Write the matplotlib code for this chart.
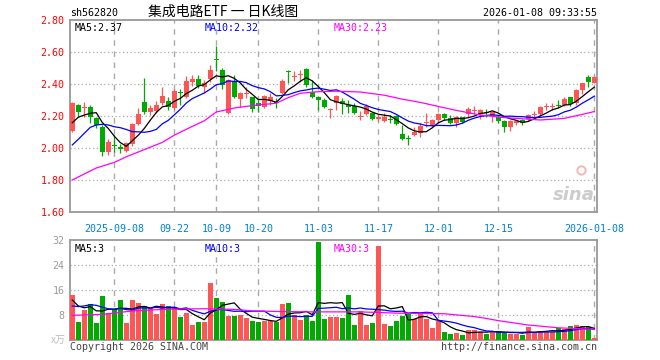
import matplotlib
matplotlib.use('Agg')
import matplotlib.pyplot as plt
import numpy as np
import pandas as pd

# 일봉 데이터
opens = [2.108, 2.269, 2.252, 2.258, 2.187, 2.133, 1.977, 2.021, 2.008, 1.983,
         2.025, 2.150, 2.287, 2.227, 2.233, 2.283, 2.294, 2.248, 2.352, 2.321,
         2.415, 2.429, 2.383, 2.429, 2.552, 2.487, 2.217, 2.421, 2.304, 2.338,
         2.317, 2.283, 2.258, 2.296, 2.290, 2.342, 2.483, 2.444, 2.454, 2.492,
         2.352, 2.317, 2.300, 2.236, 2.279, 2.294, 2.269, 2.263, 2.196, 2.213,
         2.217, 2.179, 2.171, 2.181, 2.200, 2.085, 2.065, 2.081, 2.096, 2.154,
         2.144, 2.175, 2.213, 2.185, 2.158, 2.192, 2.213, 2.233, 2.213, 2.221,
         2.200, 2.192, 2.169, 2.129, 2.154, 2.175, 2.179, 2.208, 2.213, 2.256,
         2.256, 2.269, 2.269, 2.317, 2.279, 2.363, 2.446, 2.408]
closes = [2.283, 2.227, 2.256, 2.192, 2.146, 1.977, 2.040, 2.015, 1.992, 2.029,
          2.150, 2.213, 2.227, 2.250, 2.269, 2.325, 2.258, 2.356, 2.342, 2.419,
          2.429, 2.388, 2.404, 2.487, 2.548, 2.394, 2.425, 2.321, 2.346, 2.342,
          2.242, 2.263, 2.325, 2.317, 2.283, 2.421, 2.475, 2.448, 2.458, 2.394,
          2.321, 2.300, 2.258, 2.238, 2.325, 2.275, 2.258, 2.221, 2.200, 2.263,
          2.179, 2.192, 2.192, 2.173, 2.150, 2.054, 2.058, 2.102, 2.138, 2.158,
          2.175, 2.213, 2.185, 2.158, 2.196, 2.165, 2.242, 2.238, 2.238, 2.217,
          2.227, 2.171, 2.129, 2.169, 2.169, 2.158, 2.206, 2.212, 2.258, 2.258,
          2.259, 2.263, 2.304, 2.273, 2.363, 2.404, 2.415, 2.446]
highs = [2.290, 2.272, 2.287, 2.269, 2.196, 2.144, 2.054, 2.081, 2.025, 2.040,
         2.158, 2.248, 2.440, 2.269, 2.296, 2.383, 2.321, 2.367, 2.367, 2.450,
         2.456, 2.456, 2.425, 2.519, 2.637, 2.498, 2.429, 2.456, 2.352, 2.383,
         2.321, 2.300, 2.331, 2.342, 2.310, 2.429, 2.488, 2.480, 2.488, 2.498,
         2.425, 2.321, 2.310, 2.248, 2.331, 2.310, 2.300, 2.279, 2.233, 2.273,
         2.221, 2.213, 2.217, 2.206, 2.206, 2.144, 2.081, 2.129, 2.154, 2.217,
         2.179, 2.217, 2.217, 2.206, 2.200, 2.196, 2.258, 2.263, 2.242, 2.242,
         2.233, 2.200, 2.175, 2.175, 2.175, 2.179, 2.213, 2.233, 2.263, 2.283,
         2.283, 2.300, 2.317, 2.321, 2.367, 2.408, 2.456, 2.450]
lows = [2.100, 2.192, 2.196, 2.158, 2.123, 1.950, 1.956, 1.977, 1.967, 1.977,
        2.012, 2.144, 2.213, 2.206, 2.221, 2.269, 2.238, 2.238, 2.269, 2.310,
        2.388, 2.373, 2.342, 2.415, 2.483, 2.367, 2.213, 2.310, 2.258, 2.310,
        2.227, 2.227, 2.248, 2.269, 2.248, 2.338, 2.408, 2.420, 2.415, 2.383,
        2.310, 2.238, 2.248, 2.185, 2.238, 2.213, 2.217, 2.213, 2.175, 2.206,
        2.175, 2.171, 2.165, 2.154, 2.144, 2.050, 2.019, 2.075, 2.071, 2.129,
        2.129, 2.154, 2.175, 2.150, 2.129, 2.154, 2.196, 2.213, 2.179, 2.192,
        2.165, 2.154, 2.102, 2.108, 2.144, 2.144, 2.171, 2.192, 2.206, 2.238,
        2.238, 2.248, 2.263, 2.263, 2.269, 2.338, 2.383, 2.404]
# 거래량 (万)
volumes = [14.4, 5.8, 9.6, 11.5, 5.4, 14.1, 8.5, 9.9, 12.8, 5.4,
           12.8, 11.9, 10.9, 10.1, 8.3, 11.5, 10.9, 10.5, 7.5, 8.5,
           4.8, 5.8, 5.8, 18.3, 13.4, 12.3, 7.7, 7.7, 8.0, 7.0,
           6.1, 5.8, 6.1, 6.1, 5.8, 11.5, 11.9, 8.0, 6.4, 8.0,
           6.1, 31.4, 6.7, 7.5, 7.25, 7.0, 14.4, 4.8, 9.3, 4.8,
           5.4, 30.1, 5.1, 4.5, 6.1, 7.7, 8.3, 6.6, 8.3, 6.6,
           3.8, 6.1, 2.6, 1.9, 2.2, 1.6, 3.2, 3.2, 2.6, 1.9,
           2.6, 2.9, 2.6, 1.9, 1.9, 1.6, 4.2, 2.6, 2.9, 2.6,
           2.6, 3.8, 3.5, 4.5, 4.8, 4.5, 4.2, 0.64]

# 이동평균 앞부분 (창 밖 데이터가 필요해서 그림에서 읽음)
ma5_head = [2.158, 2.192, 2.206, 2.217]
ma10_head = [2.019, 2.054, 2.092, 2.129, 2.144, 2.148, 2.144, 2.133, 2.127]
ma30_idx = [0, 4, 7, 9, 12, 15, 17, 20, 22, 24, 27, 30, 34, 36, 38, 41, 44,
            48, 52, 55, 58, 61, 64, 68, 72, 78, 82, 85, 87]
ma30_val = [1.800, 1.875, 1.910, 1.945, 1.990, 2.035, 2.080, 2.135, 2.170,
            2.225, 2.250, 2.265, 2.280, 2.315, 2.342, 2.352, 2.355, 2.350,
            2.330, 2.305, 2.285, 2.260, 2.235, 2.206, 2.190, 2.175, 2.185,
            2.210, 2.228]
vma5_head = [12.8, 10.9, 10.3, 10.7]
vma10_head = [10.9, 10.7, 10.9, 11.3, 11.1, 10.5, 10.0, 9.8, 10.1]
vma30_idx = [0, 5, 7, 10, 13, 17, 22, 27, 30, 35, 40, 43, 48, 54, 57, 62,
             67, 69, 71, 76, 81, 87]
vma30_val = [7.9, 8.2, 8.6, 9.3, 9.6, 9.9, 10.0, 9.8, 9.3, 9.1, 9.0, 9.0,
             9.0, 8.6, 8.5, 8.4, 7.5, 6.9, 6.2, 4.8, 3.9, 3.4]

tick_idx = [7, 17, 24, 31, 41, 51, 61, 71, 87]
tick_labels = ['2025-09-08', '09-22', '10-09', '10-20', '11-03', '11-17',
               '12-01', '12-15', '2026-01-08']
price_ticks = [1.60, 1.80, 2.00, 2.20, 2.40, 2.60, 2.80]
vol_ticks = [8, 16, 24, 32]

RED = '#ff5555'
GREEN = '#00aa00'
GRID = '#aaaaaa'
EDGE = '#999999'
MONO = 'DejaVu Sans Mono'
FS = 7.2


def moving_average(values, n, head):
    ma = pd.Series(values).rolling(n).mean().to_numpy()
    ma[:len(head)] = head
    return ma


n = len(closes)
x = np.arange(n)
o = np.array(opens)
c = np.array(closes)
up = c >= o
colors = np.where(up, RED, GREEN)

fig = plt.figure(figsize=(6.6, 3.6), dpi=100)
fig.patch.set_facecolor('white')
ax = fig.add_axes([70 / 660, 1 - 212 / 360, 527 / 660, 192 / 360])
axv = fig.add_axes([70 / 660, 1 - 340 / 360, 527 / 660, 100 / 360])

for a in (ax, axv):
    a.set_xlim(-0.38, 87.45)
    for s in a.spines.values():
        s.set_color(EDGE)
        s.set_linewidth(1.3)
    for t in tick_idx:
        a.axvline(t, color=GRID, lw=1.0, ls=(0, (4, 4)), zorder=0)
    a.tick_params(axis='both', length=0)

# 가격 패널
ax.set_ylim(1.60, 2.80)
for p in price_ticks[1:-1]:
    ax.axhline(p, color=GRID, lw=0.9, ls=(0, (1, 2)), zorder=0)
ax.set_yticks(price_ticks)
ax.set_yticklabels([f'{p:.2f}' for p in price_ticks], color='red',
                   fontsize=FS, family=MONO)
ax.tick_params(axis='y', pad=4)
ax.set_xticks(tick_idx)
ax.set_xticklabels(tick_labels, color='#0080d0', fontsize=FS, family=MONO)
ax.tick_params(axis='x', pad=8.5)

ax.vlines(x, lows, highs, colors=colors, lw=0.9, zorder=2)
body_h = np.maximum(np.abs(c - o), 0.006)
ax.bar(x, body_h, bottom=np.minimum(o, c), width=0.82, color=colors,
       linewidth=0, zorder=3)

ma5 = moving_average(closes, 5, ma5_head)
ma10 = moving_average(closes, 10, ma10_head)
ax.plot(x, ma5, color='black', lw=0.9, zorder=4)
ax.plot(x, ma10, color='#0000ff', lw=0.9, zorder=4)
ax.plot(ma30_idx, ma30_val, color='#ff00ff', lw=0.9, zorder=4)

ax.text(0.008, 0.985, 'MA5:2.37', transform=ax.transAxes, color='black',
        fontsize=FS, family=MONO, va='top', ha='left')
ax.text(0.255, 0.985, 'MA10:2.32', transform=ax.transAxes, color='#0000ff',
        fontsize=FS, family=MONO, va='top', ha='left')
ax.text(0.5, 0.985, 'MA30:2.23', transform=ax.transAxes, color='#ff00ff',
        fontsize=FS, family=MONO, va='top', ha='left')

# sina 워터마크
ax.text(0.995, 0.04, 'sina', transform=ax.transAxes, color='#cccccc',
        fontsize=13, style='italic', weight='bold', ha='right', va='bottom',
        zorder=1)
ax.plot([0.97], [0.22], 'o', transform=ax.transAxes, ms=6, mfc='none',
        mec='#f2b8b8', mew=1.4, zorder=1)

# 거래량 패널
axv.set_ylim(0, 32)
for v in vol_ticks[:-1]:
    axv.axhline(v, color=GRID, lw=0.9, ls=(0, (1, 2)), zorder=0)
axv.set_yticks(vol_ticks)
axv.set_yticklabels([str(v) for v in vol_ticks], color='#999999',
                    fontsize=FS, family=MONO)
axv.tick_params(axis='y', pad=4)
axv.set_xticks([])
axv.bar(x, volumes, width=0.82, color=colors, linewidth=0, zorder=3)
vma5 = moving_average(volumes, 5, vma5_head)
vma10 = moving_average(volumes, 10, vma10_head)
axv.plot(x, vma5, color='black', lw=0.9, zorder=4)
axv.plot(x, vma10, color='#0000ff', lw=0.9, zorder=4)
axv.plot(vma30_idx, vma30_val, color='#ff00ff', lw=0.9, zorder=4)
axv.text(0.008, 0.96, 'MA5:3', transform=axv.transAxes, color='black',
         fontsize=FS, family=MONO, va='top', ha='left')
axv.text(0.255, 0.96, 'MA10:3', transform=axv.transAxes, color='#0000ff',
         fontsize=FS, family=MONO, va='top', ha='left')
axv.text(0.5, 0.96, 'MA30:3', transform=axv.transAxes, color='#ff00ff',
         fontsize=FS, family=MONO, va='top', ha='left')
axv.text(-0.008, 0.0, 'x万', transform=axv.transAxes, color='#bbbbbb',
         fontsize=FS, family=['Noto Sans CJK SC', 'DejaVu Sans'],
         ha='right', va='center')

# 머리글/바닥글
fig.text(70 / 660, 1 - 13 / 360, 'sh562820', fontsize=FS, family=MONO,
         ha='left', va='center')
fig.text(223 / 660, 1 - 12 / 360, '集成电路ETF 一 日K线图', fontsize=10,
         family=['Noto Sans CJK SC', 'DejaVu Sans'], ha='center', va='center')
fig.text(597 / 660, 1 - 13 / 360, '2026-01-08 09:33:55', fontsize=FS,
         family=MONO, ha='right', va='center')
fig.text(70 / 660, 1 - 347 / 360, 'Copyright 2026 SINA.COM', fontsize=FS,
         family=MONO, color='#444444', ha='left', va='center')
fig.text(597 / 660, 1 - 347 / 360, 'http://finance.sina.com.cn', fontsize=FS,
         family=MONO, color='#444444', ha='right', va='center')

fig.savefig('out.png', dpi=100)
